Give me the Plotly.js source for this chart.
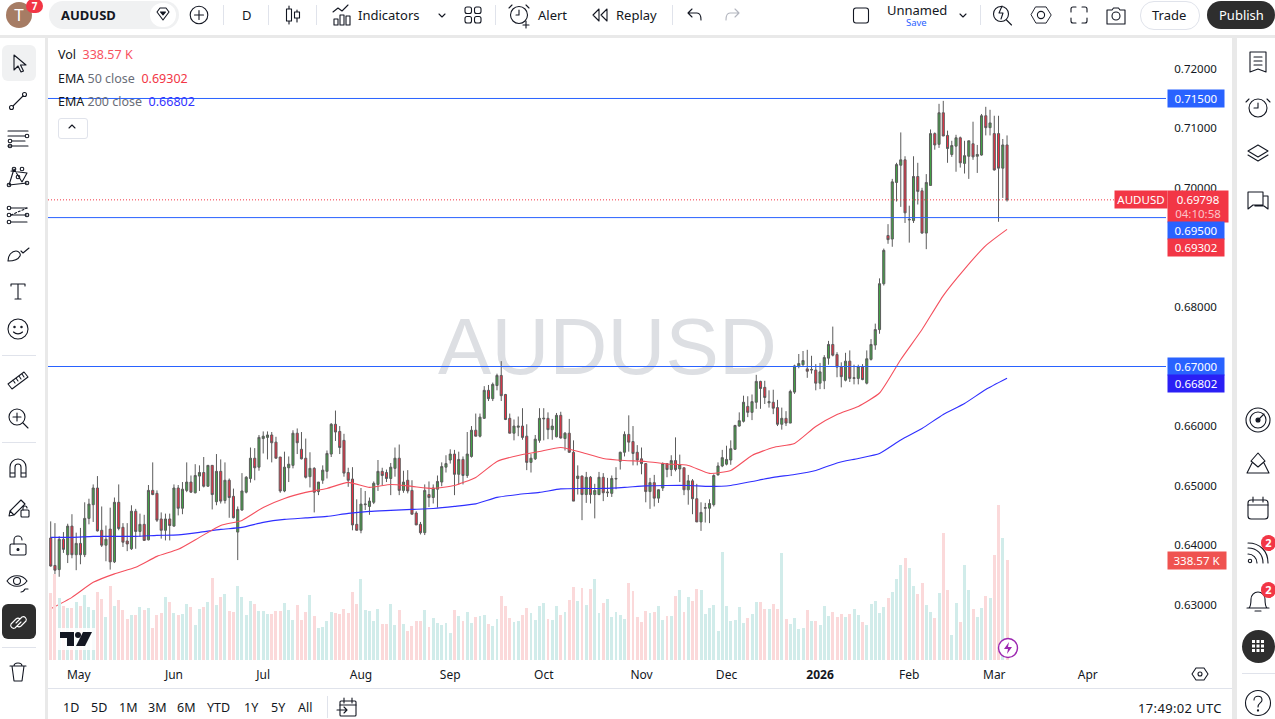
<!DOCTYPE html>
<html><head><meta charset="utf-8">
<script src="https://cdn.plot.ly/plotly-3.0.1.min.js"></script>
<style>
html,body{margin:0;padding:0;width:1275px;height:719px;overflow:hidden;background:#e9e9e9;font-family:"Noto Sans",sans-serif;color:#131722}
#panel{position:absolute;left:48px;top:38px;width:1184px;height:650px;background:#fff;z-index:0}
#wm{position:absolute;left:438px;top:297px;font:80px "Liberation Sans",sans-serif;line-height:100px;color:#dddfe3;z-index:1;white-space:nowrap;letter-spacing:.2px}
#chart{position:absolute;left:0;top:0;width:1275px;height:719px;z-index:2}
#chrome{position:absolute;left:0;top:0;width:1275px;height:719px;z-index:3;pointer-events:none}
#chrome div,#chrome span,#chrome svg{position:absolute}
.t{white-space:nowrap;font-size:13px;transform:translateY(-50%);line-height:16px}
</style></head><body>
<div id="panel"></div><div id="wm">AUDUSD</div><div id="chart"></div><div id="chrome"></div>
<script>
const opens=[
0.6412,0.6366,0.6359,0.6410,0.6384,0.6432,0.6384,0.6403,0.6384,0.6445,
0.6468,0.6496,0.6425,0.6400,0.6427,0.6372,0.6472,0.6430,0.6407,0.6394,
0.6457,0.6423,0.6435,0.6409,0.6492,0.6487,0.6444,0.6425,0.6444,0.6432,
0.6496,0.6462,0.6492,0.6506,0.6488,0.6516,0.6522,0.6499,0.6534,0.6473,
0.6524,0.6475,0.6509,0.6482,0.6422,0.6459,0.6489,0.6512,0.6546,0.6531,
0.6579,0.6581,0.6585,0.6573,0.6548,0.6491,0.6530,0.6534,0.6588,0.6561,
0.6546,0.6515,0.6529,0.6490,0.6509,0.6524,0.6553,0.6603,0.6591,0.6576,
0.6522,0.6511,0.6435,0.6425,0.6468,0.6465,0.6472,0.6502,0.6524,0.6522,
0.6512,0.6529,0.6546,0.6492,0.6509,0.6492,0.6454,0.6435,0.6421,0.6485,
0.6480,0.6494,0.6506,0.6531,0.6543,0.6553,0.6519,0.6544,0.6517,0.6549,
0.6593,0.6583,0.6613,0.6660,0.6646,0.6668,0.6685,0.6653,0.6613,0.6588,
0.6598,0.6600,0.6583,0.6539,0.6545,0.6576,0.6612,0.6613,0.6594,0.6582,
0.6618,0.6579,0.6588,0.6556,0.6512,0.6516,0.6485,0.6514,0.6485,0.6485,
0.6514,0.6488,0.6487,0.6511,0.6541,0.6556,0.6586,0.6574,0.6556,0.6545,
0.6537,0.6490,0.6505,0.6479,0.6496,0.6537,0.6527,0.6542,0.6528,0.6530,
0.6493,0.6508,0.6478,0.6439,0.6462,0.6462,0.6468,0.6518,0.6533,0.6536,
0.6543,0.6561,0.6600,0.6608,0.6633,0.6623,0.6640,0.6675,0.6665,0.6639,
0.6640,0.6631,0.6603,0.6613,0.6605,0.6657,0.6700,0.6703,0.6696,0.6694,
0.6694,0.6672,0.6676,0.6714,0.6737,0.6720,0.6699,0.6677,0.6709,0.6680,
0.6680,0.6699,0.6672,0.6712,0.6736,0.6762,0.6839,0.6920,0.6914,0.7009,
0.7038,0.7047,0.6946,0.6945,0.7019,0.6995,0.6924,0.7004,0.7091,0.7073,
0.7126,0.7088,0.7056,0.7070,0.7084,0.7041,0.7053,0.7074,0.7053,0.7055,
0.7121,0.7101,0.7091,0.7091,0.7033,0.7072];
const closes=[
0.6365,0.6358,0.6410,0.6393,0.6432,0.6384,0.6403,0.6384,0.6445,0.6469,
0.6496,0.6424,0.6400,0.6410,0.6372,0.6472,0.6428,0.6405,0.6402,0.6457,
0.6423,0.6435,0.6408,0.6492,0.6485,0.6442,0.6425,0.6444,0.6433,0.6496,
0.6462,0.6494,0.6506,0.6489,0.6517,0.6522,0.6499,0.6534,0.6485,0.6524,
0.6474,0.6509,0.6480,0.6446,0.6460,0.6491,0.6514,0.6546,0.6530,0.6581,
0.6583,0.6585,0.6572,0.6546,0.6491,0.6531,0.6536,0.6588,0.6572,0.6545,
0.6514,0.6529,0.6489,0.6506,0.6526,0.6554,0.6603,0.6590,0.6564,0.6521,
0.6509,0.6434,0.6425,0.6469,0.6469,0.6474,0.6504,0.6524,0.6517,0.6512,
0.6531,0.6546,0.6492,0.6506,0.6491,0.6452,0.6434,0.6421,0.6492,0.6480,
0.6496,0.6507,0.6532,0.6537,0.6553,0.6519,0.6544,0.6517,0.6553,0.6593,
0.6583,0.6615,0.6660,0.6646,0.6670,0.6685,0.6651,0.6611,0.6588,0.6600,
0.6600,0.6581,0.6539,0.6546,0.6578,0.6613,0.6613,0.6594,0.6600,0.6618,
0.6580,0.6588,0.6556,0.6474,0.6516,0.6485,0.6514,0.6485,0.6492,0.6514,
0.6488,0.6489,0.6512,0.6512,0.6556,0.6586,0.6573,0.6554,0.6543,0.6537,
0.6490,0.6505,0.6479,0.6493,0.6537,0.6527,0.6542,0.6527,0.6535,0.6493,
0.6508,0.6478,0.6439,0.6455,0.6463,0.6470,0.6517,0.6533,0.6547,0.6544,
0.6562,0.6601,0.6609,0.6640,0.6623,0.6641,0.6675,0.6663,0.6648,0.6641,
0.6630,0.6603,0.6613,0.6605,0.6658,0.6701,0.6705,0.6710,0.6692,0.6695,
0.6672,0.6691,0.6715,0.6737,0.6719,0.6699,0.6683,0.6709,0.6680,0.6681,
0.6700,0.6678,0.6713,0.6737,0.6762,0.6839,0.6895,0.6913,0.7010,0.7039,
0.7047,0.6958,0.6947,0.7019,0.6994,0.6924,0.7009,0.7091,0.7072,0.7126,
0.7087,0.7066,0.7071,0.7084,0.7042,0.7054,0.7079,0.7052,0.7056,0.7121,
0.7101,0.7109,0.7030,0.7033,0.7072,0.69798];
const highs=[
0.6440,0.6437,0.6415,0.6422,0.6436,0.6452,0.6421,0.6429,0.6472,0.6478,
0.6502,0.6516,0.6465,0.6433,0.6463,0.6480,0.6502,0.6437,0.6437,0.6467,
0.6461,0.6453,0.6451,0.6501,0.6539,0.6492,0.6455,0.6453,0.6453,0.6502,
0.6501,0.6506,0.6539,0.6517,0.6536,0.6534,0.6548,0.6534,0.6534,0.6553,
0.6544,0.6539,0.6512,0.6495,0.6465,0.6521,0.6516,0.6564,0.6563,0.6585,
0.6591,0.6591,0.6590,0.6582,0.6548,0.6557,0.6549,0.6593,0.6596,0.6590,
0.6579,0.6556,0.6531,0.6506,0.6534,0.6559,0.6605,0.6626,0.6600,0.6587,
0.6530,0.6531,0.6477,0.6496,0.6491,0.6480,0.6507,0.6543,0.6530,0.6527,
0.6538,0.6564,0.6569,0.6525,0.6526,0.6509,0.6457,0.6439,0.6502,0.6507,
0.6502,0.6517,0.6539,0.6551,0.6561,0.6560,0.6557,0.6549,0.6590,0.6600,
0.6621,0.6621,0.6667,0.6669,0.6673,0.6688,0.6709,0.6654,0.6621,0.6611,
0.6616,0.6630,0.6603,0.6553,0.6585,0.6630,0.6630,0.6623,0.6612,0.6622,
0.6624,0.6590,0.6612,0.6576,0.6534,0.6517,0.6523,0.6516,0.6503,0.6523,
0.6521,0.6513,0.6517,0.6531,0.6557,0.6591,0.6618,0.6600,0.6568,0.6564,
0.6538,0.6513,0.6518,0.6494,0.6539,0.6537,0.6551,0.6581,0.6552,0.6530,
0.6518,0.6511,0.6503,0.6472,0.6471,0.6477,0.6519,0.6539,0.6560,0.6567,
0.6576,0.6602,0.6623,0.6651,0.6650,0.6653,0.6686,0.6676,0.6676,0.6660,
0.6661,0.6644,0.6631,0.6625,0.6661,0.6703,0.6721,0.6726,0.6728,0.6718,
0.6704,0.6706,0.6719,0.6743,0.6767,0.6724,0.6707,0.6723,0.6727,0.6703,
0.6703,0.6704,0.6727,0.6746,0.6772,0.6848,0.6898,0.6939,0.7015,0.7042,
0.7093,0.7053,0.6970,0.7053,0.7042,0.7000,0.7023,0.7098,0.7093,0.7141,
0.7146,0.7096,0.7079,0.7089,0.7086,0.7079,0.7079,0.7111,0.7072,0.7124,
0.7136,0.7131,0.7121,0.7121,0.7082,0.7088];
const lows=[
0.6364,0.6351,0.6347,0.6387,0.6370,0.6378,0.6358,0.6368,0.6380,0.6435,
0.6439,0.6423,0.6397,0.6373,0.6359,0.6370,0.6425,0.6397,0.6390,0.6392,
0.6394,0.6414,0.6408,0.6408,0.6484,0.6439,0.6411,0.6408,0.6408,0.6431,
0.6450,0.6452,0.6489,0.6488,0.6487,0.6491,0.6497,0.6498,0.6460,0.6467,
0.6470,0.6470,0.6446,0.6445,0.6375,0.6458,0.6487,0.6505,0.6509,0.6525,
0.6554,0.6544,0.6539,0.6546,0.6488,0.6489,0.6506,0.6529,0.6553,0.6544,
0.6512,0.6497,0.6455,0.6484,0.6503,0.6512,0.6548,0.6575,0.6553,0.6515,
0.6498,0.6425,0.6425,0.6420,0.6459,0.6451,0.6469,0.6491,0.6501,0.6506,
0.6484,0.6515,0.6484,0.6488,0.6487,0.6452,0.6434,0.6418,0.6417,0.6464,
0.6470,0.6463,0.6499,0.6522,0.6537,0.6484,0.6502,0.6502,0.6513,0.6547,
0.6583,0.6581,0.6612,0.6642,0.6642,0.6660,0.6642,0.6610,0.6588,0.6576,
0.6583,0.6577,0.6526,0.6522,0.6543,0.6572,0.6576,0.6578,0.6577,0.6581,
0.6579,0.6559,0.6555,0.6474,0.6485,0.6442,0.6471,0.6470,0.6445,0.6484,
0.6474,0.6481,0.6481,0.6494,0.6527,0.6549,0.6557,0.6534,0.6534,0.6519,
0.6472,0.6461,0.6465,0.6471,0.6491,0.6514,0.6516,0.6524,0.6506,0.6484,
0.6468,0.6452,0.6439,0.6424,0.6438,0.6437,0.6465,0.6517,0.6531,0.6534,
0.6535,0.6560,0.6599,0.6606,0.6615,0.6610,0.6629,0.6629,0.6637,0.6631,
0.6620,0.6600,0.6594,0.6600,0.6605,0.6654,0.6697,0.6701,0.6681,0.6688,
0.6660,0.6662,0.6662,0.6703,0.6717,0.6682,0.6665,0.6675,0.6674,0.6670,
0.6670,0.6677,0.6670,0.6710,0.6728,0.6755,0.6836,0.6906,0.6901,0.6977,
0.6968,0.6941,0.6908,0.6941,0.6972,0.6923,0.6897,0.7004,0.7064,0.7067,
0.7087,0.7042,0.7052,0.7027,0.7034,0.7024,0.7015,0.7047,0.7025,0.7054,
0.7088,0.7088,0.7029,0.6943,0.6983,0.6977];
const volumesK=[
227,291,210,183,176,176,196,183,220,179,
169,230,207,146,251,183,203,169,139,152,
152,179,169,176,108,152,159,213,196,159,
152,156,190,179,119,173,179,196,278,186,
213,223,166,163,251,213,152,200,190,166,
166,156,156,166,166,193,169,135,186,135,
163,220,149,108,112,132,163,159,156,173,
159,230,190,274,169,166,132,173,122,122,
190,119,169,122,98,115,132,132,169,112,
142,125,119,125,91,169,149,132,163,125,
146,149,152,122,115,139,217,183,142,129,
132,152,176,159,135,183,193,139,135,183,
152,163,203,247,200,244,186,240,274,159,
193,207,146,163,152,139,261,234,146,129,
166,159,163,183,135,149,149,217,237,163,
213,200,240,237,156,176,186,98,366,183,
132,135,179,125,142,156,196,196,173,173,
190,173,362,139,122,142,105,108,169,132,
132,119,183,149,163,146,156,146,156,173,
152,129,119,190,200,159,179,210,230,274,
322,345,311,251,223,261,186,163,142,227,
430,237,85,193,129,322,237,173,146,176,
217,210,356,525,413,338.57];
const emaBars=[0,5,10,15,20,25,30,35,40,45,50,55,60,65,70,75,80,85,90,95,100,105,110,115,120,125,130,135,140,145,150,155,160,165,170,175,180,185,190,195,200,205,210,215,220,225];
const ema50=[0.62931,0.63124,0.63376,0.63518,0.63628,0.63812,0.63930,0.64131,0.64332,0.64416,0.64634,0.64785,0.64886,0.64953,0.65054,0.64970,0.65020,0.64987,0.64953,0.65003,0.65138,0.65406,0.65507,0.65574,0.65641,0.65557,0.65456,0.65423,0.65406,0.65364,0.65339,0.65205,0.65255,0.65507,0.65641,0.65708,0.65993,0.66195,0.66329,0.66555,0.67117,0.67621,0.68191,0.68636,0.69030,0.69302];
const ema200=[0.64131,0.64131,0.64148,0.64148,0.64148,0.64164,0.64173,0.64215,0.64265,0.64299,0.64383,0.64433,0.64458,0.64483,0.64534,0.64567,0.64584,0.64601,0.64617,0.64651,0.64693,0.64802,0.64852,0.64886,0.64945,0.64953,0.64953,0.64970,0.64995,0.65003,0.65003,0.64987,0.65003,0.65070,0.65138,0.65188,0.65255,0.65381,0.65456,0.65540,0.65767,0.65960,0.66195,0.66379,0.66614,0.66802];
const xTickBars=[6.6,29,50,73,94,116,139,159,181,202,222,244];
const xTickText=["May","Jun","Jul","Aug","Sep","Oct","Nov","Dec","<b>2026</b>","Feb","Mar","Apr"];
const priceTicks=[0.63,0.64,0.65,0.66,0.68,0.70,0.71,0.72];
const hLevels=[0.715,0.695,0.67];
const lastPrice=0.69798;

const bars=opens.map((_,i)=>i);
const PL=48,PR=1166,PT=38,PB=660;
const xp=px=>(px-PL)/(PR-PL), yp=py=>(PB-py)/(PB-PT);
const FONT='"Noto Sans",sans-serif';
function box(x0,x1,y0,y1,bg,text){return {xref:'paper',yref:'paper',x:xp(x0),y:yp((y0+y1)/2),xanchor:'left',yanchor:'middle',width:x1-x0,height:y1-y0,bgcolor:bg,borderpad:0,showarrow:false,align:'center',valign:'middle',text:text,font:{family:FONT,size:11.5,color:'#fff'}};}
function lbl(x,y,text,size){return {xref:'paper',yref:'paper',x:xp(x),y:yp(y),xanchor:'left',yanchor:'middle',showarrow:false,align:'left',text:text,font:{family:FONT,size:size||12.5,color:'#131722'}};}
const annotations=[
 lbl(56,55,'Vol&nbsp;&nbsp;<span style="color:#f7525f">338.57 K</span>'),
 lbl(56,78,'EMA <span style="color:#6a6d78">50 close</span>  <span style="color:#f23645">0.69302</span>'),
 lbl(56,102,'EMA <span style="color:#6a6d78">200 close</span>  <span style="color:#3333ff">0.66802</span>'),
 box(1167,1223,90,107,'#2962ff','0.71500'),
 box(1114,1166,191,208,'#f23645','AUDUSD'),
 box(1167,1227,191,222,'#f23645','0.69798<br><span style="color:#fbc4c9">04:10:58</span>'),
 box(1167,1223,222,239,'#2962ff','0.69500'),
 box(1167,1223,239,256,'#f23645','0.69302'),
 box(1167,1223,358,375,'#2962ff','0.67000'),
 box(1167,1223,375,392,'#2a1ff5','0.66802'),
 box(1167,1225,552,569,'#ef5350','338.57 K')
];
const shapes=hLevels.map(v=>({type:'line',xref:'paper',x0:0,x1:1,yref:'y',y0:v,y1:v,line:{color:'#2962ff',width:1}}));
shapes.push({type:'line',xref:'paper',x0:0,x1:1,yref:'y',y0:lastPrice,y1:lastPrice,line:{color:'#f23645',width:1,dash:'1px,2px'}});
const traces=[
 {type:'bar',x:bars,y:volumesK,yaxis:'y2',width:0.7,marker:{color:bars.map(i=>closes[i]>=opens[i]?'#d1ecea':'#fbd9da'),line:{width:0}},hoverinfo:'skip',showlegend:false},
 {type:'scatter',mode:'lines',x:emaBars,y:ema200,line:{color:'#2f2fff',width:1.1,shape:'spline',smoothing:0.5},hoverinfo:'skip',showlegend:false},
 {type:'scatter',mode:'lines',x:emaBars,y:ema50,line:{color:'#f4505e',width:1.1,shape:'spline',smoothing:0.5},hoverinfo:'skip',showlegend:false},
 {type:'candlestick',x:bars,open:opens,high:highs,low:lows,close:closes,
  increasing:{line:{color:'#5c5c5c',width:1},fillcolor:'#43a047'},
  decreasing:{line:{color:'#5c5c5c',width:1},fillcolor:'#ef3045'},hoverinfo:'skip',showlegend:false}
];
const layout={width:1275,height:719,autosize:false,margin:{l:PL,r:1275-PR,t:PT,b:719-PB,pad:0},
 paper_bgcolor:'rgba(0,0,0,0)',plot_bgcolor:'rgba(0,0,0,0)',showlegend:false,bargap:0,
 xaxis:{type:'linear',range:[-0.635,262.4],tickmode:'array',tickvals:xTickBars,ticktext:xTickText,showgrid:false,zeroline:false,showline:false,ticks:'outside',ticklen:4,tickcolor:'rgba(0,0,0,0)',tickfont:{family:FONT,size:12,color:'#131722'},rangeslider:{visible:false},fixedrange:true},
 yaxis:{side:'right',range:[0.67-(660-366.5)/5956,0.67+(366.5-38)/5956],tickmode:'array',tickvals:priceTicks,tickformat:'.5f',showgrid:false,zeroline:false,showline:false,ticks:'outside',ticklen:5,tickcolor:'rgba(0,0,0,0)',tickfont:{family:FONT,size:11.5,color:'#131722'},fixedrange:true},
 yaxis2:{overlaying:'y',side:'left',range:[0,622*3.3857],visible:false,fixedrange:true},
 shapes:shapes,annotations:annotations};
Plotly.newPlot('chart',traces,layout,{displayModeBar:false,staticPlot:true});

/* interface around the chart */
const S='fill="none" stroke="#131722" stroke-width="1.1" stroke-linecap="round" stroke-linejoin="round"';
let h='';
function rect(x,y,w,ht,st){h+=`<div style="left:${x}px;top:${y}px;width:${w}px;height:${ht}px;${st}"></div>`;}
function txt(x,y,t,st){h+=`<span class="t" style="left:${x}px;top:${y}px;${st||''}">${t}</span>`;}
function ic(cx,cy,inner,col){h+=`<svg style="left:${cx-14}px;top:${cy-14}px" width="28" height="28" viewBox="0 0 28 28"><g ${col?S.replace('#131722',col):S}>${inner}</g></svg>`;}
rect(0,0,1275,35,'background:#fff');
rect(0,38,45,681,'background:#fff');
rect(1237,38,38,681,'background:#fff');
rect(48,688,1184,31,'background:#fff');
rect(48,688,1184,1,'background:#e0e3eb');
/* top bar */
h+=`<div style="left:6px;top:2px;width:26px;height:26px;border-radius:50%;background:#a67c64;color:#fff;font-size:17px;line-height:26px;text-align:center">T</div>`;
h+=`<div style="left:26px;top:-1px;width:17px;height:14px;border-radius:8px;background:#f23645;color:#fff;font-size:10px;line-height:14px;text-align:center;font-weight:700">7</div>`;
rect(49,1,130,28,'background:#f0f1f2;border-radius:14px');
txt(61,15,'AUDUSD','font-weight:700;font-size:13px');
rect(150,3,26,24,'background:#fff;border-radius:12px');
ic(163,15,'<path d="M8 11l3-4h6l3 4-6 8z"/><path d="M11.5 11h5l-2.5 3z" fill="#131722"/>');
ic(199,15,'<circle cx="14" cy="14" r="8.8"/><path d="M14 9.5v9M9.5 14h9"/>');
rect(223,5,1,20,'background:#e0e3eb');txt(242,15,'D');rect(268,5,1,20,'background:#e0e3eb');
ic(293,15,'<path d="M10 5v18M18 9v12"/><rect x="7.5" y="8" width="5" height="12" fill="#fff"/><rect x="15.5" y="11" width="5" height="6" fill="#fff"/>');
rect(316,5,1,20,'background:#e0e3eb');
ic(342,15,'<path d="M5 11l5-4 4 3 6-6M6 24v-6h4v6zM12 24V14h4v10zM18 24v-9h4v9z"/>');
txt(358,15,'Indicators');
ic(442,15,'<path d="M11 13l3 3 3-3"/>');
ic(473,15,'<rect x="6" y="6" width="6.5" height="6.5" rx="2"/><rect x="15.5" y="6" width="6.5" height="6.5" rx="2"/><rect x="6" y="15.5" width="6.5" height="6.5" rx="2"/><rect x="15.5" y="15.5" width="6.5" height="6.5" rx="2"/>');
rect(495,5,1,20,'background:#e0e3eb');
ic(520,15,'<circle cx="13" cy="14" r="8.5"/><path d="M13 9v5h-3M6 4L3 7M20 4l3 3M20 20v7M17 24h6"/>');
txt(538,15,'Alert');
ic(600,15,'<path d="M13 8l-6 6 6 6zM21 8l-6 6 6 6z"/>');
txt(616,15,'Replay');
rect(672,5,1,20,'background:#e0e3eb');
ic(695,15,'<path d="M11 8l-4 4 4 4M7 12h9c3 0 4 3 4 7"/>');
ic(732,15,'<path d="M17 8l4 4-4 4M21 12h-9c-3 0-4 3-4 7"/>','#b2b5be');
ic(862,15,'<rect x="5.5" y="7" width="15" height="15" rx="2.5"/>');
txt(887,10,'Unnamed','line-height:12px');txt(906,23,'Save','font-size:9.5px;color:#2962ff;line-height:10px');
ic(963,15,'<path d="M11 13l3 3 3-3"/>');
rect(980,5,1,20,'background:#e0e3eb');
ic(1003,15,'<circle cx="12" cy="13" r="7.5"/><path d="M17.5 19l5 5M13 5l-3 7h4l-2 6" />');
ic(1041,15,'<path d="M8 4.5h12l6 9.5-6 9.5H8L2.5 14z" transform="translate(14 14) scale(.85) translate(-14 -14)"/><circle cx="14" cy="14" r="3.6"/>');
ic(1079,15,'<path d="M6 11V8a2 2 0 0 1 2-2h3M17 6h3a2 2 0 0 1 2 2v3M22 17v3a2 2 0 0 1-2 2h-3M11 22H8a2 2 0 0 1-2-2v-3"/>');
ic(1116,15,'<path d="M5 9h5l1.5-2h5L18 9h5v14H5z"/><circle cx="14" cy="15" r="4"/>');
rect(1140,1,58,27,'border:1px solid #e0e3eb;border-radius:14px;background:#fff');
txt(1152,15,'Trade');
rect(1207,1,68,28,'background:#2e2e2e;border-radius:14px');
txt(1219,15,'Publish','color:#fff');
/* left toolbar */
rect(2,45,34,36,'background:#f0f1f2;border-radius:6px');
ic(18,63,'<path d="M10 6v15l4-4 3 6 2.5-1-3-6h5.5z"/>');
ic(18,101,'<path d="M9 19L19 9"/><circle cx="7.5" cy="20.5" r="2"/><circle cx="20.5" cy="7.5" r="2"/>');
ic(18,139,'<path d="M4 6h20M4 11h17M8 16h13M4 21h20"/><circle cx="23" cy="11" r="1.8"/><circle cx="6" cy="16" r="1.8"/><circle cx="6" cy="21" r="1.8"/>');
ic(18,177,'<path d="M5 22L10 6l8 13 5-9-16-2M5 22l18-2"/><circle cx="5" cy="22" r="1.8"/><circle cx="10" cy="6" r="1.8"/><circle cx="18" cy="6" r="1.8"/><circle cx="23" cy="20" r="1.8"/><circle cx="14" cy="14" r="1.8"/>');
ic(18,215,'<path d="M7 7h16M7 21h16M7 14h16"/><path d="M7 14l16-7" stroke-dasharray="2 2"/><circle cx="5" cy="7" r="1.8"/><circle cx="5" cy="14" r="1.8"/><circle cx="5" cy="21" r="1.8"/><circle cx="23" cy="14" r="1.8"/>');
ic(18,253,'<path d="M4 22c0-6 4-10 8-10 3 0 5 3 4 5s-4 5-12 5zM17 12l2 2 6-5"/>');
ic(18,291,'<path d="M7 7h14M14 7v15M11 22h6M7 7v2M21 7v2"/>');
ic(18,329,'<circle cx="14" cy="14" r="10"/><circle cx="10.5" cy="12" r=".7"/><circle cx="17.5" cy="12" r=".7"/><path d="M9.5 17c2.5 2.5 6.5 2.5 9 0"/>');
rect(2,355,34,1,'background:#e0e3eb');
ic(18,380,'<path d="M4 18L20 6l4 5L8 23zM9 14l2 3M12 12l2 3M15 10l2 3M18 8l2 3"/>');
ic(18,418,'<circle cx="13" cy="13" r="8"/><path d="M19 19l5 5M13 9v8M9 13h8"/>');
rect(2,442,34,1,'background:#e0e3eb');
ic(18,468,'<path d="M6 23V13a8 8 0 0 1 16 0v10h-5V13a3 3 0 0 0-6 0v10zM6 19h5M17 19h5"/>');
ic(18,507,'<path d="M5 23l1-5L17 7l4 4L10 22zM6 18l4 4"/><rect x="17" y="17" width="8" height="7" rx="1"/><path d="M19 17v-2a2 2 0 0 1 4 0"/>');
ic(18,545,'<rect x="6" y="13" width="16" height="11" rx="1.5"/><path d="M10 13V9a4 4 0 0 1 8 0"/><circle cx="14" cy="18.5" r="1" fill="#131722"/>');
ic(18,583,'<path d="M3 12c5-7 15-7 20 0-5 7-15 7-20 0z"/><circle cx="13" cy="12" r="3.5"/><path d="M17 23c2 0 3-1 4-3l3 0"/>');
rect(2,604,34,35,'background:#2e2e2e;border-radius:6px');
ic(18,621,'<path d="M12 16l6-6a3 3 0 0 1 4 4l-5 5a3 3 0 0 1-4 0M16 12a3 3 0 0 0-4 0l-5 5a3 3 0 0 0 4 4l6-6"/>','#fff');
rect(2,647,34,1,'background:#e0e3eb');
ic(18,672,'<path d="M6 8h16M8 8l2 15h8l2-15M10 8c0-4 8-4 8 0"/>');
/* right toolbar */
ic(1258,62,'<path d="M6 4h16v20l-8-3-8 3zM10 9h8M10 13h8M10 17h8"/>');
ic(1258,107,'<circle cx="14" cy="15" r="9"/><path d="M14 10v5h-4M5 6L2 9M23 6l3 3"/>');
ic(1258,153,'<path d="M14 6l10 6-10 6L4 12zM4 16l10 6 10-6"/>');
ic(1258,200,'<path d="M4 6h15v13H9l-5 4zM20 10h4v13l-4-3H11v-1"/>');
ic(1258,420,'<circle cx="14" cy="14" r="12"/><circle cx="14" cy="14" r="8"/><circle cx="14" cy="14" r="2" fill="#131722"/><path d="M14 14l6-6"/>');
ic(1258,464,'<path d="M14 3l7 8-7 6-7-6zM8 13l-5 10h22l-5-10"/>');
ic(1258,508,'<rect x="4" y="6" width="20" height="19" rx="3"/><path d="M4 11h20M9 3v5M19 3v5"/>');
ic(1258,553,'<circle cx="6" cy="22" r="1.7"/><path d="M4 15c5 0 9 4 9 9M4 9c9 0 15 6 15 15M4 4c12 0 20 8 20 20"/>');
ic(1258,600,'<path d="M5 22c2-2 2-5 2-9a7 7 0 0 1 14 0c0 4 0 7 2 9zM3 22h22M11 25h6"/>');
for(const y of [543,590]) h+=`<div style="left:1261px;top:${y-8}px;width:15px;height:16px;border-radius:8px;background:#f23645;color:#fff;font-size:11px;line-height:16px;text-align:center;font-weight:700">2</div>`;
rect(1242,630,33,33,'background:#2e2e2e;border-radius:50%');
ic(1258,646,'<g fill="#fff" stroke="none"><rect x="8" y="8" width="3" height="3"/><rect x="12.5" y="8" width="3" height="3"/><rect x="17" y="8" width="3" height="3"/><rect x="8" y="12.5" width="3" height="3"/><rect x="12.5" y="12.5" width="3" height="3"/><rect x="17" y="12.5" width="3" height="3"/><rect x="8" y="17" width="3" height="3"/><rect x="12.5" y="17" width="3" height="3"/><rect x="17" y="17" width="3" height="3"/></g>');
rect(1242,673,33,1,'background:#e0e3eb');
ic(1258,703,'<circle cx="14" cy="14" r="12.5"/><path d="M10 11c0-5 8-5 8 0 0 3-4 3-4 7"/><circle cx="14" cy="21.5" r=".6"/>');
/* bottom bar */
[['1D',63],['5D',91],['1M',119],['3M',148],['6M',177],['YTD',207],['1Y',244],['5Y',271],['All',298]].forEach(a=>txt(a[1],708,a[0],'font-size:12.5px'));
rect(327,696,1,22,'background:#e0e3eb');
ic(348,708,'<rect x="6" y="7" width="16" height="15" rx="1"/><path d="M6 11h16M10 4v5M18 4v5M3 16h10M10 13l3 3-3 3"/>');
txt(1138,708,'17:49:02 UTC','font-size:13px;letter-spacing:.35px');
ic(1200,674,'<path d="M10 8h8l4 6-4 6h-8l-4-6z"/><circle cx="14" cy="14" r="2"/>');
/* marks in the pane */
h+=`<svg style="left:57px;top:628px" width="38" height="22" viewBox="0 0 38 22"><rect width="38" height="22" fill="#fff" fill-opacity=".85"/><path d="M3 4h14v14h-7V10H3z" fill="#131722"/><circle cx="21" cy="7" r="3" fill="#131722"/><path d="M26 4h9l-7 14h-9z" fill="#131722"/></svg>`;
h+=`<svg style="left:997px;top:637px" width="22" height="22" viewBox="0 0 22 22"><circle cx="11" cy="11" r="9.5" fill="#fff" stroke="#9c27b0" stroke-width="1.4"/><path d="M12 5l-5 7h4l-1 5 5-7h-4z" fill="#9c27b0"/></svg>`;
rect(58,118,28,19,'border:1px solid #e0e3eb;border-radius:3px;background:#fff');
ic(72,127,'<path d="M11 15l3-3 3 3"/>');
document.getElementById('chrome').innerHTML=h;
</script>
</body></html>
